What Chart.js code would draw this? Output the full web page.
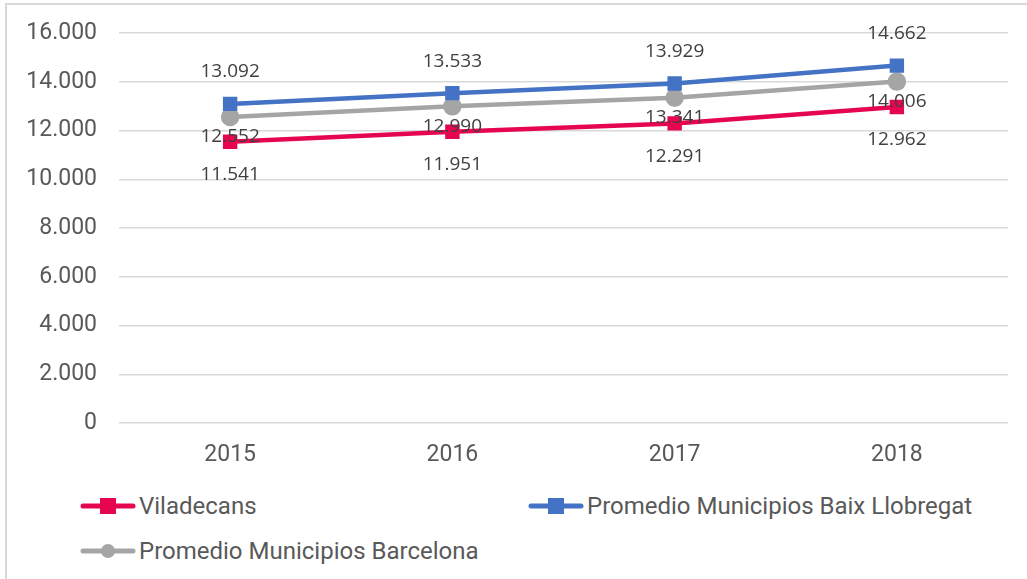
<!DOCTYPE html>
<html>
<head>
<meta charset="utf-8">
<script src="https://cdn.jsdelivr.net/npm/chart.js@4"></script>
<style>
  html, body { margin: 0; padding: 0; background: #fff; }
  #frame {
    position: absolute; left: 5px; top: 3px; width: 1040px; height: 600px;
    border-left: 2px solid #d9d9d9; border-top: 2px solid #d9d9d9;
  }
  #wrap { position: absolute; left: 0; top: 0; width: 1027px; height: 480px; }
  #legend { position: absolute; left: 0; top: 486px; width: 1027px; height: 90px; font-family: Roboto, sans-serif; font-size: 24px; color: #595959; }
  .item { position: absolute; display: flex; align-items: center; height: 30px; }
  .item canvas { margin-right: 3px; }
</style>
</head>
<body>
<div id="frame"></div>
<div id="wrap"><canvas id="chart"></canvas></div>
<div id="legend"></div>
<script>
// --------------------- Data ---------------------
const years = ['2015', '2016', '2017', '2018'];
const viladecans = [11541, 11951, 12291, 12962];
const baixLlobregat = [13092, 13533, 13929, 14662];
const barcelona = [12552, 12990, 13341, 14006];
const seriesNames = ['Viladecans', 'Promedio Municipios Baix Llobregat', 'Promedio Municipios Barcelona'];

const colors = ['#e6064f', '#4472c4', '#a5a5a5'];
const markers = ['rect', 'rect', 'circle'];
const labelOffsets = [33, -32, 20];   // label shift from point, px

function fmt(v) {
  return String(v).replace(/\B(?=(\d{3})+(?!\d))/g, '.');
}

// --------------------- Data labels plugin ---------------------
const pointLabels = {
  id: 'pointLabels',
  afterDatasetsDraw(chart) {
    const ctx = chart.ctx;
    ctx.save();
    ctx.font = '19px "Open Sans", sans-serif';
    ctx.fillStyle = '#404040';
    ctx.textAlign = 'center';
    ctx.textBaseline = 'middle';
    chart.data.datasets.forEach((ds, i) => {
      chart.getDatasetMeta(i).data.forEach((pt, j) => {
        ctx.fillText(fmt(ds.data[j]), pt.x, pt.y + labelOffsets[i]);
      });
    });
    ctx.restore();
  }
};

const allSeries = [viladecans, baixLlobregat, barcelona];

new Chart(document.getElementById('chart'), {
  type: 'line',
  data: {
    labels: years,
    datasets: allSeries.map((vals, i) => ({
      label: seriesNames[i],
      data: vals,
      borderColor: colors[i],
      backgroundColor: colors[i],
      borderWidth: 4.5,
      pointStyle: markers[i],
      pointRadius: 7,
      pointHoverRadius: 7,
      tension: 0,
      order: [2, 1, 3][i]
    }))
  },
  options: {
    responsive: true,
    maintainAspectRatio: false,
    animation: false,
    layout: { padding: { top: 33, right: 19, left: 0, bottom: 0 } },
    plugins: { legend: { display: false }, tooltip: { enabled: false } },
    scales: {
      x: {
        offset: true,
        afterFit(scale) { scale.height = 57; },
        grid: { display: false, drawTicks: false },
        border: { display: false },
        ticks: { color: '#595959', font: { family: 'Roboto', size: 23 }, padding: 18 }
      },
      y: {
        min: 0, max: 16000,
        afterFit(scale) {
          scale.width = 119;
          scale.paddingTop = 0;
          scale.paddingBottom = 0;
        },
        grid: { color: '#d9d9d9', lineWidth: 1.5, drawTicks: false },
        border: { display: false },
        ticks: {
          stepSize: 2000,
          color: '#595959',
          font: { family: 'Roboto', size: 23 },
          padding: 22,
          callback: v => fmt(v)
        }
      }
    }
  },
  plugins: [pointLabels]
});

// --------------------- HTML legend ---------------------
const legendPos = [[80, 5], [528, 5], [80, 50]];
const legend = document.getElementById('legend');
seriesNames.forEach((name, i) => {
  const item = document.createElement('div');
  item.className = 'item';
  item.style.left = legendPos[i][0] + 'px';
  item.style.top = legendPos[i][1] + 'px';
  const c = document.createElement('canvas');
  c.width = 56; c.height = 20;
  const g = c.getContext('2d');
  g.strokeStyle = colors[i];
  g.fillStyle = colors[i];
  g.lineWidth = 5;
  g.lineCap = 'round';
  g.beginPath(); g.moveTo(3, 10); g.lineTo(53, 10); g.stroke();
  if (markers[i] === 'rect') g.fillRect(20, 2, 16, 16);
  else { g.beginPath(); g.arc(28, 10, 7, 0, Math.PI * 2); g.fill(); }
  item.appendChild(c);
  const t = document.createElement('span');
  t.textContent = name;
  item.appendChild(t);
  legend.appendChild(item);
});
</script>
</body>
</html>
